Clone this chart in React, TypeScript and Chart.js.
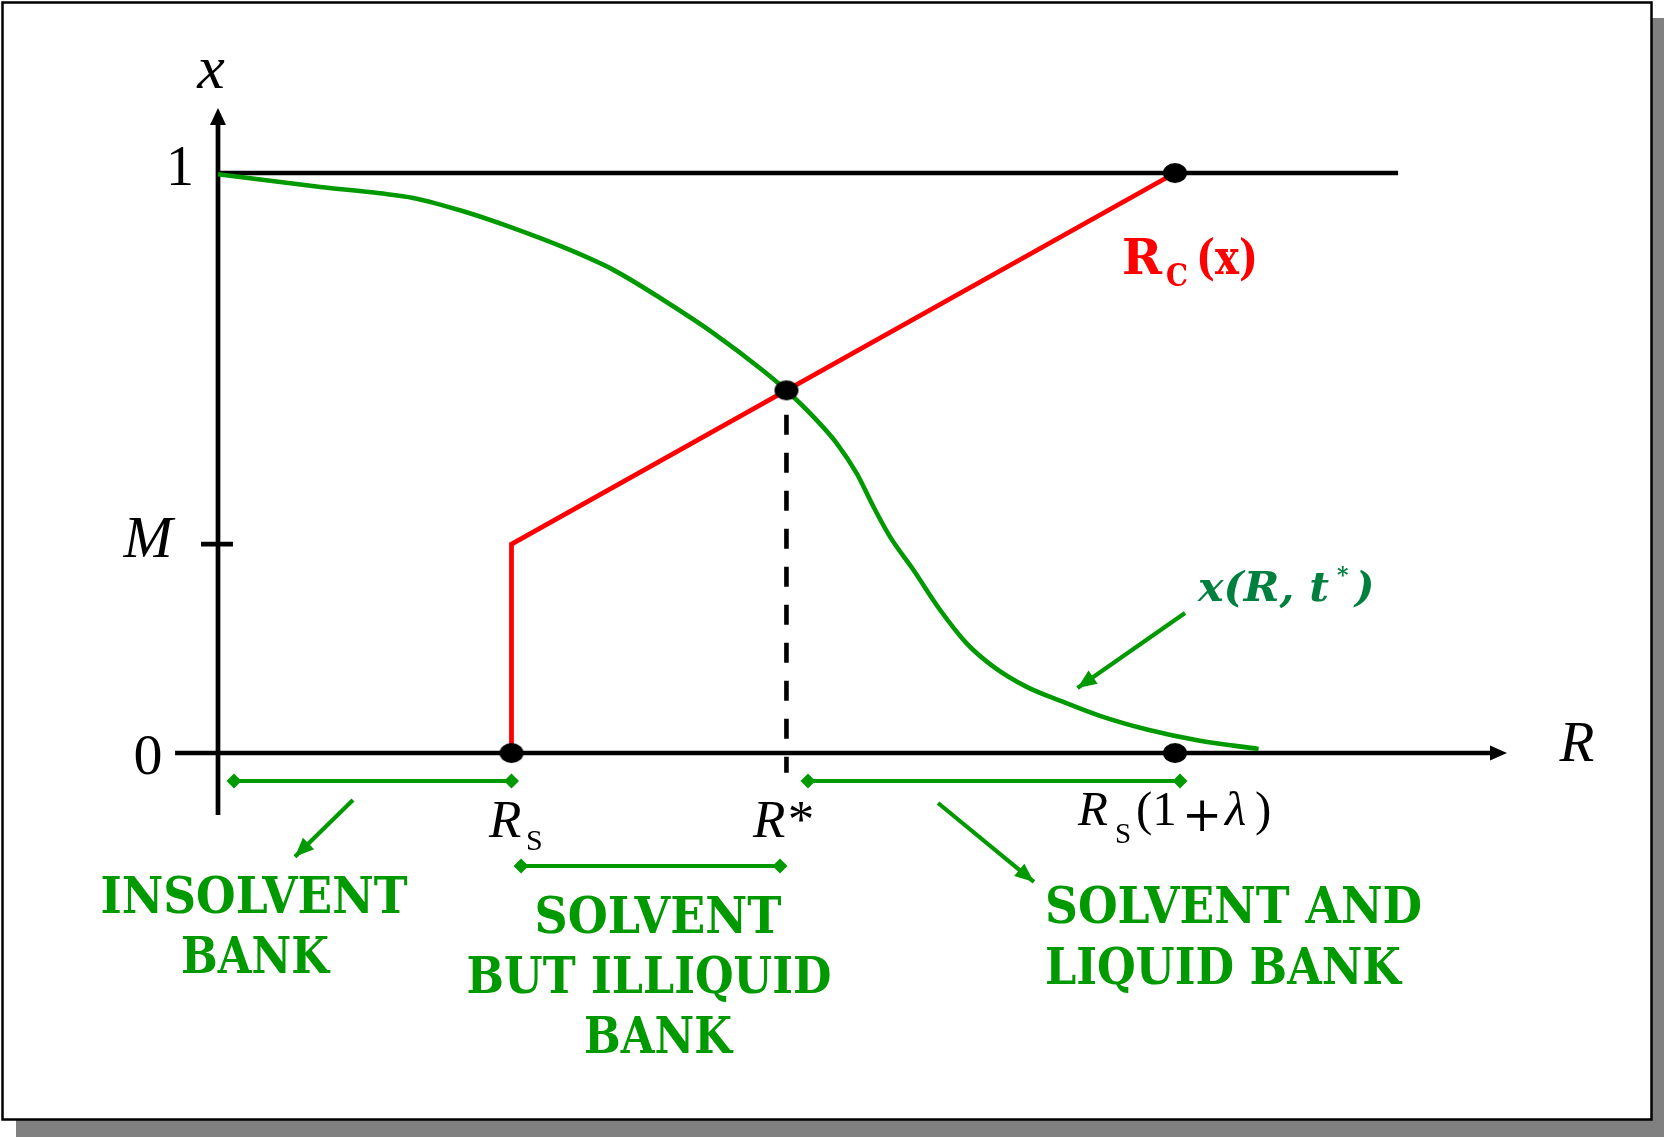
import React, { useEffect, useRef } from "react";
import { Chart, registerables } from "chart.js";

Chart.register(...registerables);

const W = 1664;
const H = 1137;

// ---- Data (R on horizontal axis, x on vertical axis) ----
const curveR = [0, 0.795, 1.257, 1.515, 1.903, 2.291, 2.679, 3.067, 3.455, 3.843, 4.23, 4.41, 4.618, 4.8, 4.955, 5.084, 5.213, 5.394, 5.601, 5.808, 6.015, 6.274, 6.558, 6.842, 7.215, 7.618, 8.073];
const curveX = [0.998, 0.976, 0.965, 0.957, 0.934, 0.905, 0.872, 0.833, 0.781, 0.724, 0.659, 0.625, 0.58, 0.534, 0.482, 0.425, 0.373, 0.316, 0.247, 0.189, 0.149, 0.114, 0.088, 0.064, 0.04, 0.021, 0.007];

const RS = 2.277; // R_S
const RSTAR = 4.41; // R*
const RSL = 7.424; // R_S(1+lambda)
const M = 0.36;

const rcR = [RS, RS, RSL];
const rcX = [0, M, 1];

const axisXEnds = [-0.333, 10];
const axisYEnds = [-0.107, 1.112];
const topLineEnds = [0, 9.155];
const mTickEnds = [-0.132, 0.116];

const dashTop = 0.583;
const dashBottom = -0.034;

const insolventSpan = [0.124, RS, -0.0483];
const illiquidSpan = [2.351, 4.36, -0.1948];
const liquidSpan = [4.577, 7.463, -0.0483];

const arrowInsolvent = [[1.047, -0.081], [0.597, -0.179]];
const arrowLiquid = [[5.586, -0.0862], [6.33, -0.2224]];
const arrowCurve = [[7.502, 0.2414], [6.668, 0.112]];

const X_MIN = -1.6912;
const X_MAX = 11.218;
const Y_MIN = -0.66207;
const Y_MAX = 1.29828;

const GREEN = "#009900";
const TEAL = "#00803f";
const RED = "#ff0000";

const rcAt = (r: number) => M + ((r - RS) / (RSL - RS)) * (1 - M);

function pts(xs: number[], ys: number[]) {
  return xs.map((x, i) => ({ x, y: ys[i] }));
}

function drawText(ctx: CanvasRenderingContext2D, text: string, x: number, y: number, font: string, color: string, align: "left" | "center" | "right" = "left", targetW?: number) {
  ctx.save();
  ctx.font = font;
  ctx.fillStyle = color;
  const w = ctx.measureText(text).width;
  const s = targetW ? targetW / w : 1;
  const left = align === "center" ? x - (w * s) / 2 : align === "right" ? x - w * s : x;
  ctx.translate(left, y);
  ctx.scale(s, 1);
  ctx.textAlign = "left";
  ctx.textBaseline = "alphabetic";
  ctx.fillText(text, 0, 0);
  ctx.restore();
}

function arrowHead(ctx: CanvasRenderingContext2D, x1: number, y1: number, x2: number, y2: number, len: number, half: number, color: string) {
  const a = Math.atan2(y2 - y1, x2 - x1);
  const bx = x2 - len * Math.cos(a);
  const by = y2 - len * Math.sin(a);
  ctx.save();
  ctx.fillStyle = color;
  ctx.beginPath();
  ctx.moveTo(x2, y2);
  ctx.lineTo(bx + half * Math.sin(a), by - half * Math.cos(a));
  ctx.lineTo(bx - half * Math.sin(a), by + half * Math.cos(a));
  ctx.closePath();
  ctx.fill();
  ctx.restore();
}

const framePlugin = {
  id: "frame",
  beforeDraw(chart: any) {
    const ctx = chart.ctx as CanvasRenderingContext2D;
    ctx.save();
    ctx.fillStyle = "#ffffff";
    ctx.fillRect(0, 0, W, H);
    ctx.fillStyle = "#808080";
    ctx.fillRect(16, 18, W - 16, H - 18);
    ctx.fillStyle = "#ffffff";
    ctx.fillRect(2, 2, 1650, 1118);
    ctx.strokeStyle = "#000000";
    ctx.lineWidth = 2.5;
    ctx.strokeRect(2.5, 2.5, 1649, 1117);
    ctx.restore();
  },
};

const labelPlugin = {
  id: "labels",
  afterDatasetsDraw(chart: any) {
    const ctx = chart.ctx as CanvasRenderingContext2D;
    const xs = chart.scales.x;
    const ys = chart.scales.y;
    const px = (v: number) => xs.getPixelForValue(v);
    const py = (v: number) => ys.getPixelForValue(v);

    // axis arrowheads
    arrowHead(ctx, px(0), py(0), px(0), py(axisYEnds[1]), 17, 8, "#000");
    arrowHead(ctx, px(0), py(0), px(axisXEnds[1]), py(0), 17, 7.5, "#000");

    // green arrow heads
    for (const a of [arrowInsolvent, arrowLiquid, arrowCurve]) {
      arrowHead(ctx, px(a[0][0]), py(a[0][1]), px(a[1][0]), py(a[1][1]), 19, 8, GREEN);
    }

    const serif = '"Liberation Serif", "Times New Roman", serif';
    const slab = '"DejaVu Serif", serif';

    // axis labels
    drawText(ctx, "x", 211, 88, `italic 62px ${serif}`, "#000", "center");
    drawText(ctx, "1", 180, 185, `56px ${serif}`, "#000", "center");
    drawText(ctx, "M", 148, 557, `italic 59px ${serif}`, "#000", "center");
    drawText(ctx, "0", 148, 774, `58px ${serif}`, "#000", "center");
    drawText(ctx, "R", 1577, 761, `italic 57px ${serif}`, "#000", "center");

    // R_S
    drawText(ctx, "R", 489, 837, `italic 53px ${serif}`, "#000", "left");
    drawText(ctx, "S", 526, 850, `30px ${serif}`, "#000", "left");
    // R*
    drawText(ctx, "R*", 753, 837, `italic 53px ${serif}`, "#000", "left");
    // R_S(1+λ)
    drawText(ctx, "R", 1078, 825, `italic 49px ${serif}`, "#000", "left");
    drawText(ctx, "S", 1115, 843, `29px ${serif}`, "#000", "left");
    drawText(ctx, "(1", 1136, 825, `49px ${serif}`, "#000", "left");
    drawText(ctx, "+", 1182, 831, `48px ${slab}`, "#000", "left");
    drawText(ctx, "λ", 1225, 825, `italic 49px ${serif}`, "#000", "left");
    drawText(ctx, ")", 1255, 825, `49px ${serif}`, "#000", "left");

    // R_C(x)
    drawText(ctx, "R", 1122, 274, `bold 49px ${slab}`, RED, "left", 40);
    drawText(ctx, "C", 1166, 286, `bold 32px ${slab}`, RED, "left", 22);
    drawText(ctx, "(x)", 1196, 274, `bold 48px ${slab}`, RED, "left", 62);

    // x(R, t*)
    drawText(ctx, "x(R, t", 1198, 601, `bold italic 41px ${slab}`, TEAL, "left", 131);
    drawText(ctx, "*", 1337, 582, `bold 22px ${slab}`, TEAL, "left");
    drawText(ctx, ")", 1355, 601, `bold italic 41px ${slab}`, TEAL, "left");

    // region labels
    const rf = `bold 50px ${slab}`;
    drawText(ctx, "INSOLVENT", 254, 913, rf, GREEN, "center", 307);
    drawText(ctx, "BANK", 255, 973, rf, GREEN, "center", 148);
    drawText(ctx, "SOLVENT", 658, 933, rf, GREEN, "center", 247);
    drawText(ctx, "BUT ILLIQUID", 649, 993, rf, GREEN, "center", 365);
    drawText(ctx, "BANK", 658, 1053, rf, GREEN, "center", 148);
    drawText(ctx, "SOLVENT AND", 1045, 923, rf, GREEN, "left", 377);
    drawText(ctx, "LIQUID BANK", 1045, 984, rf, GREEN, "left", 356);
  },
};

function makeDot(): HTMLCanvasElement {
  const c = document.createElement("canvas");
  c.width = 26;
  c.height = 22;
  const g = c.getContext("2d")!;
  g.fillStyle = "#000";
  g.beginPath();
  g.ellipse(13, 11, 12, 10, 0, 0, Math.PI * 2);
  g.fill();
  return c;
}

const lineDS = (label: string, data: any[], color: string, width: number, order: number, extra: any = {}) => ({
  label,
  data,
  showLine: true,
  borderColor: color,
  backgroundColor: color,
  borderWidth: width,
  pointRadius: 0,
  tension: 0,
  fill: false,
  clip: false as any,
  order,
  ...extra,
});

export default function App() {
  const ref = useRef<HTMLCanvasElement | null>(null);

  useEffect(() => {
    if (!ref.current) return;
    const dot = makeDot();
    const spanExtra = {
      pointRadius: 7.5,
      pointStyle: "rectRot",
      pointBackgroundColor: GREEN,
      pointBorderWidth: 0,
    };
    const chart = new Chart(ref.current, {
      type: "scatter",
      data: {
        datasets: [
          {
            label: "points",
            data: [
              { x: RS, y: 0 },
              { x: RSTAR, y: rcAt(RSTAR) },
              { x: RSL, y: 1 },
              { x: RSL, y: 0 },
            ],
            pointStyle: dot as any,
            pointRadius: 11,
            showLine: false,
            clip: false as any,
            order: 0,
          } as any,
          lineDS("x(R,t*)", pts(curveR, curveX), GREEN, 4.6, 2, { cubicInterpolationMode: "monotone" }),
          lineDS("Rc(x)", pts(rcR, rcX), RED, 4.8, 3),
          lineDS("dash", [{ x: RSTAR, y: dashTop }, { x: RSTAR, y: dashBottom }], "#000", 4.6, 4, { borderDash: [20, 18] }),
          lineDS("insolvent", [{ x: insolventSpan[0], y: insolventSpan[2] }, { x: insolventSpan[1], y: insolventSpan[2] }], GREEN, 4.2, 5, spanExtra),
          lineDS("illiquid", [{ x: illiquidSpan[0], y: illiquidSpan[2] }, { x: illiquidSpan[1], y: illiquidSpan[2] }], GREEN, 4.2, 5, spanExtra),
          lineDS("liquid", [{ x: liquidSpan[0], y: liquidSpan[2] }, { x: liquidSpan[1], y: liquidSpan[2] }], GREEN, 4.2, 5, spanExtra),
          lineDS("arrow1", [{ x: arrowInsolvent[0][0], y: arrowInsolvent[0][1] }, { x: arrowInsolvent[1][0], y: arrowInsolvent[1][1] }], GREEN, 4.2, 6),
          lineDS("arrow2", [{ x: arrowLiquid[0][0], y: arrowLiquid[0][1] }, { x: arrowLiquid[1][0], y: arrowLiquid[1][1] }], GREEN, 4.2, 6),
          lineDS("arrow3", [{ x: arrowCurve[0][0], y: arrowCurve[0][1] }, { x: arrowCurve[1][0], y: arrowCurve[1][1] }], GREEN, 4.2, 6),
          lineDS("topline", [{ x: topLineEnds[0], y: 1 }, { x: topLineEnds[1], y: 1 }], "#000", 4.7, 8),
          lineDS("xaxis", [{ x: axisXEnds[0], y: 0 }, { x: axisXEnds[1] - 0.08, y: 0 }], "#000", 4.7, 8),
          lineDS("yaxis", [{ x: 0, y: axisYEnds[0] }, { x: 0, y: axisYEnds[1] - 0.02 }], "#000", 4.7, 8),
          lineDS("mtick", [{ x: mTickEnds[0], y: M }, { x: mTickEnds[1], y: M }], "#000", 4.7, 8),
        ],
      },
      options: {
        animation: false,
        responsive: false,
        devicePixelRatio: 1,
        layout: { padding: 0, autoPadding: false },
        plugins: {
          legend: { display: false },
          tooltip: { enabled: false },
          title: { display: false },
        },
        events: [],
        scales: {
          x: { type: "linear", min: X_MIN, max: X_MAX, display: false },
          y: { type: "linear", min: Y_MIN, max: Y_MAX, display: false },
        },
      },
      plugins: [framePlugin, labelPlugin],
    });
    return () => chart.destroy();
  }, []);

  return (
    <div style={{ position: "fixed", left: 0, top: 0, width: W, height: H }}>
      <canvas ref={ref} width={W} height={H} style={{ display: "block", width: W, height: H }} />
    </div>
  );
}
